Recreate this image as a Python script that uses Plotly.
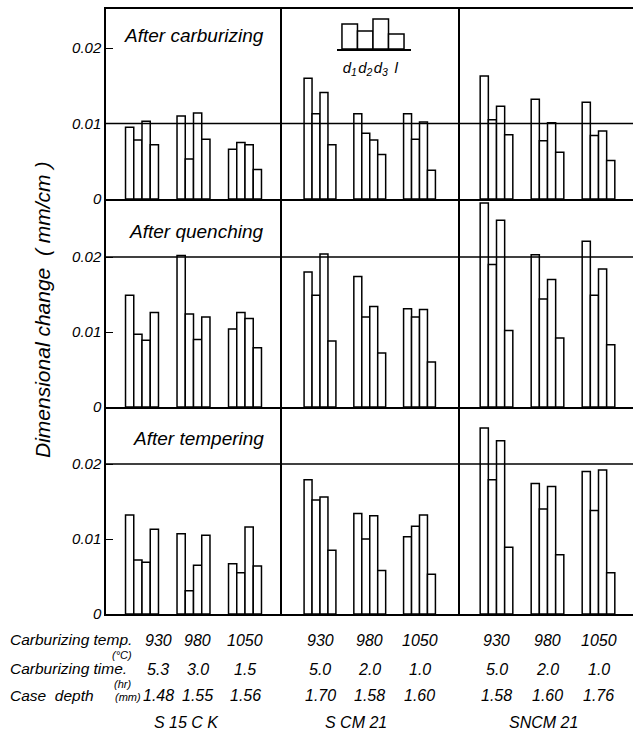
import plotly.graph_objects as go

# ---------------- data ----------------
materials = ["S 15 C K", "S CM 21", "SNCM 21"]
carb_temp = [["930", "980", "1050"], ["930", "980", "1050"], ["930", "980", "1050"]]
carb_time = [["5.3", "3.0", "1.5"], ["5.0", "2.0", "1.0"], ["5.0", "2.0", "1.0"]]
case_depth = [["1.48", "1.55", "1.56"], ["1.70", "1.58", "1.60"], ["1.58", "1.60", "1.76"]]
stages = ["After carburizing", "After quenching", "After tempering"]
series_names = ["d1", "d2", "d3", "l"]

# each list: S15CK(930,980,1050), SCM21(930,980,1050), SNCM21(930,980,1050)
carb_d1 = [0.0095, 0.0110, 0.0066, 0.0160, 0.0113, 0.0113, 0.0163, 0.0132, 0.0128]
carb_d2 = [0.0078, 0.0053, 0.0075, 0.0113, 0.0087, 0.0079, 0.0105, 0.0077, 0.0084]
carb_d3 = [0.0103, 0.0114, 0.0072, 0.0141, 0.0078, 0.0102, 0.0123, 0.0101, 0.0090]
carb_l = [0.0072, 0.0079, 0.0039, 0.0072, 0.0059, 0.0038, 0.0085, 0.0062, 0.0051]

quench_d1 = [0.0149, 0.0202, 0.0104, 0.0180, 0.0174, 0.0131, 0.0272, 0.0203, 0.0221]
quench_d2 = [0.0097, 0.0124, 0.0126, 0.0149, 0.0120, 0.0120, 0.0190, 0.0144, 0.0149]
quench_d3 = [0.0089, 0.0090, 0.0118, 0.0204, 0.0134, 0.0130, 0.0249, 0.0170, 0.0184]
quench_l = [0.0126, 0.0120, 0.0079, 0.0088, 0.0072, 0.0060, 0.0102, 0.0092, 0.0083]

temper_d1 = [0.0132, 0.0107, 0.0067, 0.0179, 0.0134, 0.0103, 0.0248, 0.0174, 0.0190]
temper_d2 = [0.0072, 0.0031, 0.0055, 0.0152, 0.0100, 0.0117, 0.0179, 0.0140, 0.0138]
temper_d3 = [0.0069, 0.0065, 0.0116, 0.0156, 0.0131, 0.0132, 0.0231, 0.0170, 0.0192]
temper_l = [0.0113, 0.0105, 0.0064, 0.0085, 0.0058, 0.0053, 0.0089, 0.0079, 0.0055]

stage_series = [
    [carb_d1, carb_d2, carb_d3, carb_l],
    [quench_d1, quench_d2, quench_d3, quench_l],
    [temper_d1, temper_d2, temper_d3, temper_l],
]
grid_values = [0.01, 0.02, 0.02]          # full-width reference line per stage
ytick_vals = [0, 0.01, 0.02]
ytick_text = ["0", "0.01", "0.02"]

legend_labels = ["d<sub>1</sub>", "d<sub>2</sub>", "d<sub>3</sub>", "l"]
legend_heights = [25, 18, 30, 15]         # illustrative key bars

row_labels = ["Carburizing temp.", "Carburizing time.", "Case  depth"]
unit_labels = ["(°C)", "(hr)", "(mm)"]

# ---------------- layout geometry (pixels) ----------------
W, H = 633, 731
L, R, T, B = 106, 633, 9, 614
col_px = [(106, 282), (282, 460), (460, 633)]
row_px = [(9, 199), (199, 407), (407, 614)]
px_per_001 = [75.5, 75.0, 75.0]
col_x0 = [36.0, 38.0, 36.5]       # px from column left to first group centre
col_step = [51.5, 49.75, 51.0]    # px between group centres

pw, ph = R - L, B - T


def px_x(x):
    return (x - L) / pw


def px_y(y):
    return (B - y) / ph


FONT = "Liberation Sans, Arial, sans-serif"
fig = go.Figure()
layout = {}

for r in range(3):
    ytop, ybot = row_px[r]
    ymax = (ybot - ytop) / px_per_001[r] * 0.01
    for c in range(3):
        k = r * 3 + c + 1
        xn = "x" if k == 1 else f"x{k}"
        yn = "y" if k == 1 else f"y{k}"
        xa = "xaxis" if k == 1 else f"xaxis{k}"
        ya = "yaxis" if k == 1 else f"yaxis{k}"
        cx0, cx1 = col_px[c]
        xs = -col_x0[c] / col_step[c]
        xe = xs + (cx1 - cx0) / col_step[c]
        layout[xa] = dict(domain=[px_x(cx0), px_x(cx1)], range=[xs, xe], anchor=yn,
                          showline=True, linecolor="black", linewidth=1.5,
                          mirror=(r == 0), showgrid=False, zeroline=False,
                          showticklabels=False, ticks="", fixedrange=True)
        ydict = dict(domain=[px_y(ybot), px_y(ytop)], range=[0, ymax], anchor=xn,
                     showline=True, linecolor="black", linewidth=1.5,
                     showgrid=False, zeroline=False, fixedrange=True)
        if c == 0:
            ydict.update(tickvals=ytick_vals, ticktext=ytick_text, ticks="inside",
                         ticklen=7, tickwidth=1.3, tickcolor="black", showticklabels=True,
                         tickfont=dict(family=FONT, size=15, color="black", style="italic"))
        else:
            ydict.update(ticks="", showticklabels=False)
        layout[ya] = ydict
        for s in range(4):
            vals = stage_series[r][s][c * 3:(c + 1) * 3]
            fig.add_trace(go.Bar(x=[0, 1, 2], y=vals, name=series_names[s],
                                 xaxis=xn, yaxis=yn, showlegend=False,
                                 offsetgroup=str(s),
                                 marker=dict(color="white", line=dict(color="black", width=1.5))))
    # reference line for this stage
    yref = "y" if r == 0 else f"y{r * 3 + 1}"
    fig.add_shape(type="line", xref="paper", x0=0, x1=1, yref=yref,
                  y0=grid_values[r], y1=grid_values[r], line=dict(color="black", width=1.3))

# legend inset
layout["xaxis10"] = dict(domain=[px_x(337), px_x(411)], range=[-0.82, 3.95], anchor="y10",
                         showline=True, linecolor="black", linewidth=1.5, showgrid=False,
                         zeroline=False, tickvals=[0, 1, 2, 3], ticktext=legend_labels,
                         tickangle=0, ticks="", ticklabelstandoff=4, fixedrange=True,
                         tickfont=dict(family=FONT, size=15, color="black", style="italic"))
layout["yaxis10"] = dict(domain=[px_y(49), px_y(17)], range=[0, 32], anchor="x10",
                         visible=False, fixedrange=True)
fig.add_trace(go.Bar(x=[0, 1, 2, 3], y=legend_heights, width=1, xaxis="x10", yaxis="y10",
                     showlegend=False,
                     marker=dict(color="white", line=dict(color="black", width=1.5))))

annotations = []
# stage titles
title_pos = [(194, 35), (196, 232), (198, 438)]
for r in range(3):
    annotations.append(dict(text=stages[r], xref="paper", yref="paper",
                            x=px_x(title_pos[r][0]), y=px_y(title_pos[r][1]),
                            showarrow=False, xanchor="center", yanchor="middle",
                            font=dict(family=FONT, size=19, color="black", style="italic")))

# y title
annotations.append(dict(text="Dimensional change  ( mm/cm )", xref="paper", yref="paper",
                        x=px_x(42), y=px_y(310), textangle=-90, showarrow=False,
                        xanchor="center", yanchor="middle",
                        font=dict(family=FONT, size=21, color="black", style="italic")))

# bottom table
row_y = [640, 669, 696]
label_y = [639, 668, 695]
unit_xy = [(122, 655), (122, 684), (128, 697)]
for i in range(3):
    annotations.append(dict(text=row_labels[i], xref="paper", yref="paper",
                            x=px_x(8), y=px_y(label_y[i]), showarrow=False,
                            xanchor="left", yanchor="middle",
                            font=dict(family=FONT, size=15.5, color="black", style="italic")))
    annotations.append(dict(text=unit_labels[i], xref="paper", yref="paper",
                            x=px_x(unit_xy[i][0]), y=px_y(unit_xy[i][1]), showarrow=False,
                            xanchor="center", yanchor="middle",
                            font=dict(family=FONT, size=11, color="black", style="italic")))

tables = [carb_temp, carb_time, case_depth]
col1_shift = [16, 4, 0]
mat_shift = [-7, -14, -4]
for c in range(3):
    xn = "x" + str(6 + c + 1)
    for g in range(3):
        for i in range(3):
            annotations.append(dict(text=tables[i][c][g], xref=xn, yref="paper",
                                    x=g, y=px_y(row_y[i]), showarrow=False,
                                    xshift=col1_shift[g] if c == 0 else 0,
                                    xanchor="center", yanchor="middle",
                                    font=dict(family=FONT, size=16, color="black", style="italic")))
    annotations.append(dict(text=materials[c], xref=xn, yref="paper", x=1,
                            xshift=mat_shift[c],
                            y=px_y(723), showarrow=False, xanchor="center", yanchor="middle",
                            font=dict(family=FONT, size=16, color="black", style="italic")))

fig.update_layout(**layout)
fig.update_layout(annotations=annotations, width=W, height=H,
                  margin=dict(l=L, r=W - R, t=T, b=H - B, pad=0),
                  plot_bgcolor="white", paper_bgcolor="white",
                  barmode="group", bargap=0.36, bargroupgap=0.0,
                  font=dict(family=FONT, color="black"))

fig.write_html("out.html")
